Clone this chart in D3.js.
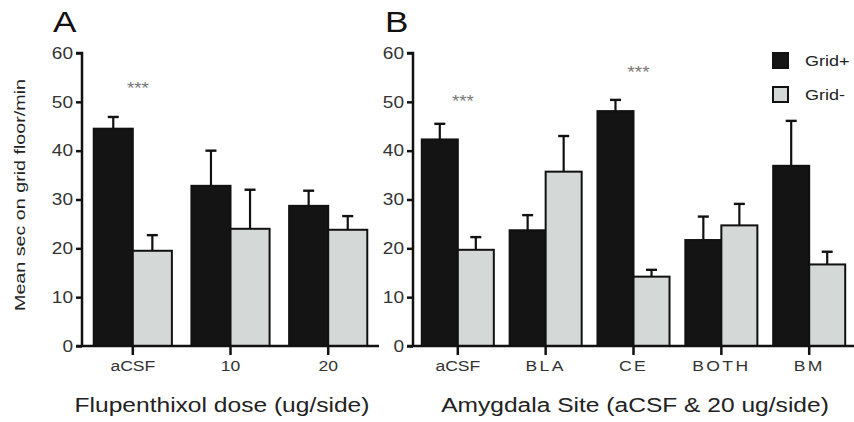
<!DOCTYPE html>
<html><head><meta charset="utf-8">
<script src="https://cdn.jsdelivr.net/npm/d3@7"></script>
<style>body{margin:0;background:#fff}svg{display:block}text{font-family:"Liberation Sans",Arial,Helvetica,sans-serif}</style>
</head><body>
<script>
// Panel A data
const catsA = ["aCSF", "10", "20"];
const gridPlusA = [44.5, 32.8, 28.7];
const gridPlusErrA = [2.4, 7.2, 3.1];
const gridMinusA = [19.5, 24.0, 23.8];
const gridMinusErrA = [3.2, 8.0, 2.8];
const starsA = [{cat: "aCSF", y: 51.6}];

// Panel B data
const catsB = ["aCSF", "BLA", "CE", "BOTH", "BM"];
const gridPlusB = [42.3, 23.7, 48.1, 21.7, 36.9];
const gridPlusErrB = [3.2, 3.1, 2.3, 4.8, 9.2];
const gridMinusB = [19.7, 35.7, 14.2, 24.7, 16.7];
const gridMinusErrB = [2.6, 7.3, 1.4, 4.4, 2.6];
const starsB = [{cat: "aCSF", y: 48.9}, {cat: "CE", y: 54.8}];

const yTicks = [0, 10, 20, 30, 40, 50, 60];
const seriesNames = ["Grid+", "Grid-"];
const colors = ["#141414", "#d4d8d7"];

const SX = 1.17; // horizontal text stretch of the reference
const W = 854, H = 422;
const svg = d3.select("body").append("svg").attr("width", W).attr("height", H);

const y = d3.scaleLinear().domain([0, 60]).range([346, 53]);

function stretchedText(sel, x, yy, size, txt, anchor, fill) {
  return sel.append("text").attr("transform", `translate(${x},${yy}) scale(${SX},1)`)
    .attr("text-anchor", anchor || "start").attr("font-size", size).attr("fill", fill || "#222").text(txt);
}

function panel(opts) {
  const {cats, plus, plusErr, minus, minusErr, stars, x0, x1, pInner, pOuter, label, title, titleX, letterSpace} = opts;
  const g = svg.append("g");
  const x = d3.scaleBand().domain(cats).range([x0, x1]).paddingInner(pInner).paddingOuter(pOuter);
  const xs = d3.scaleBand().domain(seriesNames).range([0, x.bandwidth()]);
  const rows = cats.map((c, i) => ({c, vals: [plus[i], minus[i]], errs: [plusErr[i], minusErr[i]]}));

  // error bars (drawn first, behind bars)
  rows.forEach(r => {
    r.vals.forEach((v, j) => {
      const cx = x(r.c) + xs(seriesNames[j]) + xs.bandwidth() / 2;
      g.append("line").attr("x1", cx).attr("x2", cx).attr("y1", y(v)).attr("y2", y(v + r.errs[j]))
        .attr("stroke", "#111").attr("stroke-width", 2.2);
      g.append("line").attr("x1", cx - 5.5).attr("x2", cx + 5.5).attr("y1", y(v + r.errs[j])).attr("y2", y(v + r.errs[j]))
        .attr("stroke", "#111").attr("stroke-width", 2.4);
    });
  });
  // bars
  rows.forEach(r => {
    r.vals.forEach((v, j) => {
      g.append("rect")
        .attr("x", x(r.c) + xs(seriesNames[j]))
        .attr("y", y(v))
        .attr("width", xs.bandwidth())
        .attr("height", y(0) - y(v))
        .attr("fill", colors[j])
        .attr("stroke", "#111").attr("stroke-width", 2);
    });
  });

  // y axis
  const ya = g.append("g").attr("transform", `translate(${x0},0)`)
    .call(d3.axisLeft(y).tickValues(yTicks).tickSize(6).tickPadding(3));
  ya.select(".domain").attr("stroke", "#111").attr("stroke-width", 2.5).attr("d", `M-6,${y(60)}H0V${y(0)}`);
  ya.selectAll(".tick line").attr("stroke", "#111").attr("stroke-width", 2.5);
  ya.selectAll(".tick text").attr("font-size", 16.3).attr("fill", "#333")
    .attr("transform", `scale(${SX},1)`).attr("x", -9 / SX)
    .style("font-family", "'Liberation Sans',Arial,sans-serif");

  // x axis
  const xa = g.append("g").attr("transform", `translate(0,${y(0)})`)
    .call(d3.axisBottom(x).tickSize(9).tickPadding(5));
  xa.select(".domain").attr("stroke", "#111").attr("stroke-width", 2.5).attr("d", `M${x0 - 6},0H${x1}`);
  xa.selectAll(".tick line").attr("stroke", "#111").attr("stroke-width", 2.5);
  xa.selectAll(".tick text").attr("font-size", 15).attr("fill", "#333")
    .attr("transform", `scale(${SX},1)`)
    .style("font-family", "'Liberation Sans',Arial,sans-serif")
    .attr("letter-spacing", d => (letterSpace && d !== "aCSF") ? "2px" : "0px");

  // stars
  stars.forEach(s => {
    stretchedText(g, x(s.cat) + x.bandwidth() / 2 + 5, y(s.y), 16, "***", "middle", "#777");
  });

  // panel label
  stretchedText(g, label.x, 32, 30, label.t, "start", "#111");
  // x title
  stretchedText(g, titleX, 412, 21, title, "middle", "#222");
}

panel({cats: catsA, plus: gridPlusA, plusErr: gridPlusErrA, minus: gridMinusA, minusErr: gridMinusErrA,
  stars: starsA, x0: 82, x1: 379, pInner: 0.2, pOuter: 0.12, label: {x: 53, t: "A"},
  title: "Flupenthixol dose (ug/side)", titleX: 222, letterSpace: false});
panel({cats: catsB, plus: gridPlusB, plusErr: gridPlusErrB, minus: gridMinusB, minusErr: gridMinusErrB,
  stars: starsB, x0: 413, x1: 854, pInner: 0.18, pOuter: 0.1, label: {x: 385, t: "B"},
  title: "Amygdala Site (aCSF & 20 ug/side)", titleX: 635, letterSpace: true});

// y axis title
svg.append("text").attr("transform", "translate(25,195) rotate(-90) scale(1.28,1)").attr("text-anchor", "middle")
  .attr("font-size", 15.4).attr("fill", "#222").text("Mean sec on grid floor/min");

// legend
const leg = svg.append("g").attr("transform", "translate(772,52)");
seriesNames.forEach((s, i) => {
  leg.append("rect").attr("x", 1).attr("y", i * 34 + 1).attr("width", 15).attr("height", 15)
    .attr("fill", colors[i]).attr("stroke", "#111").attr("stroke-width", 2);
  stretchedText(leg, 33, i * 34 + 14, 15.4, s, "start", "#222");
});
</script>
</body></html>
